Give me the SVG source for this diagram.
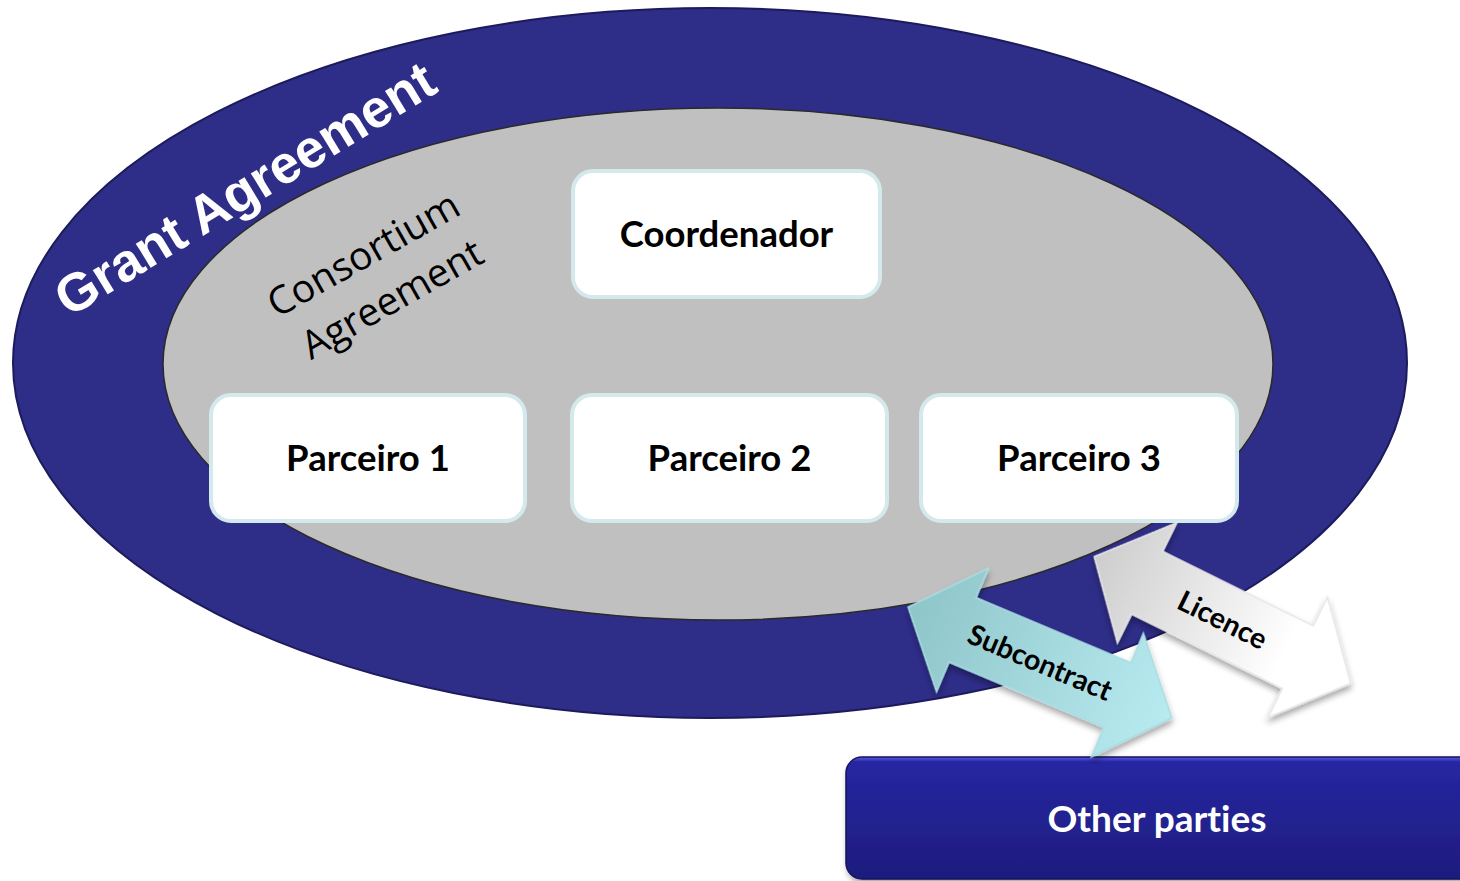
<svg xmlns="http://www.w3.org/2000/svg" width="1460" height="881" viewBox="0 0 1460 881">
  <style>
    text { font-variant-ligatures: none; }
    .box { fill: #ffffff; stroke: #d3e9eb; stroke-width: 4; }
    .boxtxt { font-family: Lato, "Open Sans", sans-serif; font-weight: bold; font-size: 36.5px; fill: #000000; text-anchor: middle; }
    .arrtxt { font-family: Lato, "Open Sans", sans-serif; font-weight: bold; font-size: 28.5px; fill: #000000; text-anchor: middle; }
  </style>
  <defs>
    <linearGradient id="gSub" gradientUnits="userSpaceOnUse" x1="-143" y1="0" x2="143" y2="0">
      <stop offset="0" stop-color="#8ec5c9"/>
      <stop offset="1" stop-color="#b8ebf1"/>
    </linearGradient>
    <linearGradient id="gLic" gradientUnits="userSpaceOnUse" x1="-143" y1="0" x2="143" y2="0">
      <stop offset="0" stop-color="#cdcdcd"/>
      <stop offset="0.75" stop-color="#ffffff"/>
      <stop offset="1" stop-color="#ffffff"/>
    </linearGradient>
    <linearGradient id="gOther" x1="0" y1="0" x2="0" y2="1">
      <stop offset="0" stop-color="#5b5be6"/>
      <stop offset="0.04" stop-color="#2626a2"/>
      <stop offset="1" stop-color="#1e1c7e"/>
    </linearGradient>
    <filter id="shadow" x="-20%" y="-20%" width="140%" height="150%">
      <feDropShadow dx="2" dy="4" stdDeviation="3" flood-color="#000000" flood-opacity="0.35"/>
    </filter>
    <path id="dblArrow" d="M -143 0 L -84 -67 L -84 -35 L 84 -35 L 84 -67 L 143 0 L 84 67 L 84 35 L -84 35 L -84 67 Z"/>
  </defs>

  <rect x="0" y="0" width="1460" height="881" fill="#ffffff"/>

  <g id="grant-agreement">
    <ellipse cx="710" cy="363" rx="697" ry="355" fill="#2e2d88" stroke="#1c1b5c" stroke-width="2"/>
    <text x="0" y="0" transform="translate(69,318) rotate(-31.5)" font-family="'Liberation Sans', Arial, sans-serif" font-weight="bold" font-size="53.5" fill="#ffffff">Grant Agreement</text>
  </g>

  <g id="consortium-agreement">
    <ellipse cx="718" cy="364" rx="555" ry="256" fill="#c0c0c0" stroke="#2a2a2a" stroke-width="1.5"/>
    <g transform="translate(370,266) rotate(-29.5)" font-family="'Open Sans', sans-serif" font-size="39" fill="#000000" text-anchor="middle">
      <text x="0" y="0">Consortium</text>
      <text x="3" y="53">Agreement</text>
    </g>
  </g>

  <g id="coordenador">
    <rect class="box" x="573" y="171" width="307" height="126" rx="20"/>
    <text class="boxtxt" x="726.5" y="247">Coordenador</text>
  </g>
  <g id="parceiro1">
    <rect class="box" x="211" y="395" width="314" height="126" rx="20"/>
    <text class="boxtxt" x="368" y="471">Parceiro 1</text>
  </g>
  <g id="parceiro2">
    <rect class="box" x="572" y="395" width="315" height="126" rx="20"/>
    <text class="boxtxt" x="729.5" y="471">Parceiro 2</text>
  </g>
  <g id="parceiro3">
    <rect class="box" x="921" y="395" width="316" height="126" rx="20"/>
    <text class="boxtxt" x="1079" y="471">Parceiro 3</text>
  </g>

  <g id="other-parties">
    <rect x="846" y="757" width="640" height="122" rx="16" fill="url(#gOther)" stroke="#16145e" stroke-width="1.5" filter="url(#shadow)"/>
    <text x="1157" y="832" font-family="Lato, 'Open Sans', sans-serif" font-weight="bold" font-size="37" fill="#ffffff" text-anchor="middle">Other parties</text>
  </g>

  <g id="connectors">
    <g id="subcontract" transform="translate(1040,662.5) rotate(22.8)">
      <use href="#dblArrow" fill="url(#gSub)" stroke="#a9dde2" stroke-width="1.5" filter="url(#shadow)"/>
      <text class="arrtxt" x="0" y="10">Subcontract</text>
    </g>
    <g id="licence" transform="translate(1222.5,620) rotate(26.3)">
      <use href="#dblArrow" fill="url(#gLic)" stroke="#e6e6e6" stroke-width="1.5" filter="url(#shadow)"/>
      <text class="arrtxt" x="0" y="10">Licence</text>
    </g>
  </g>
</svg>
